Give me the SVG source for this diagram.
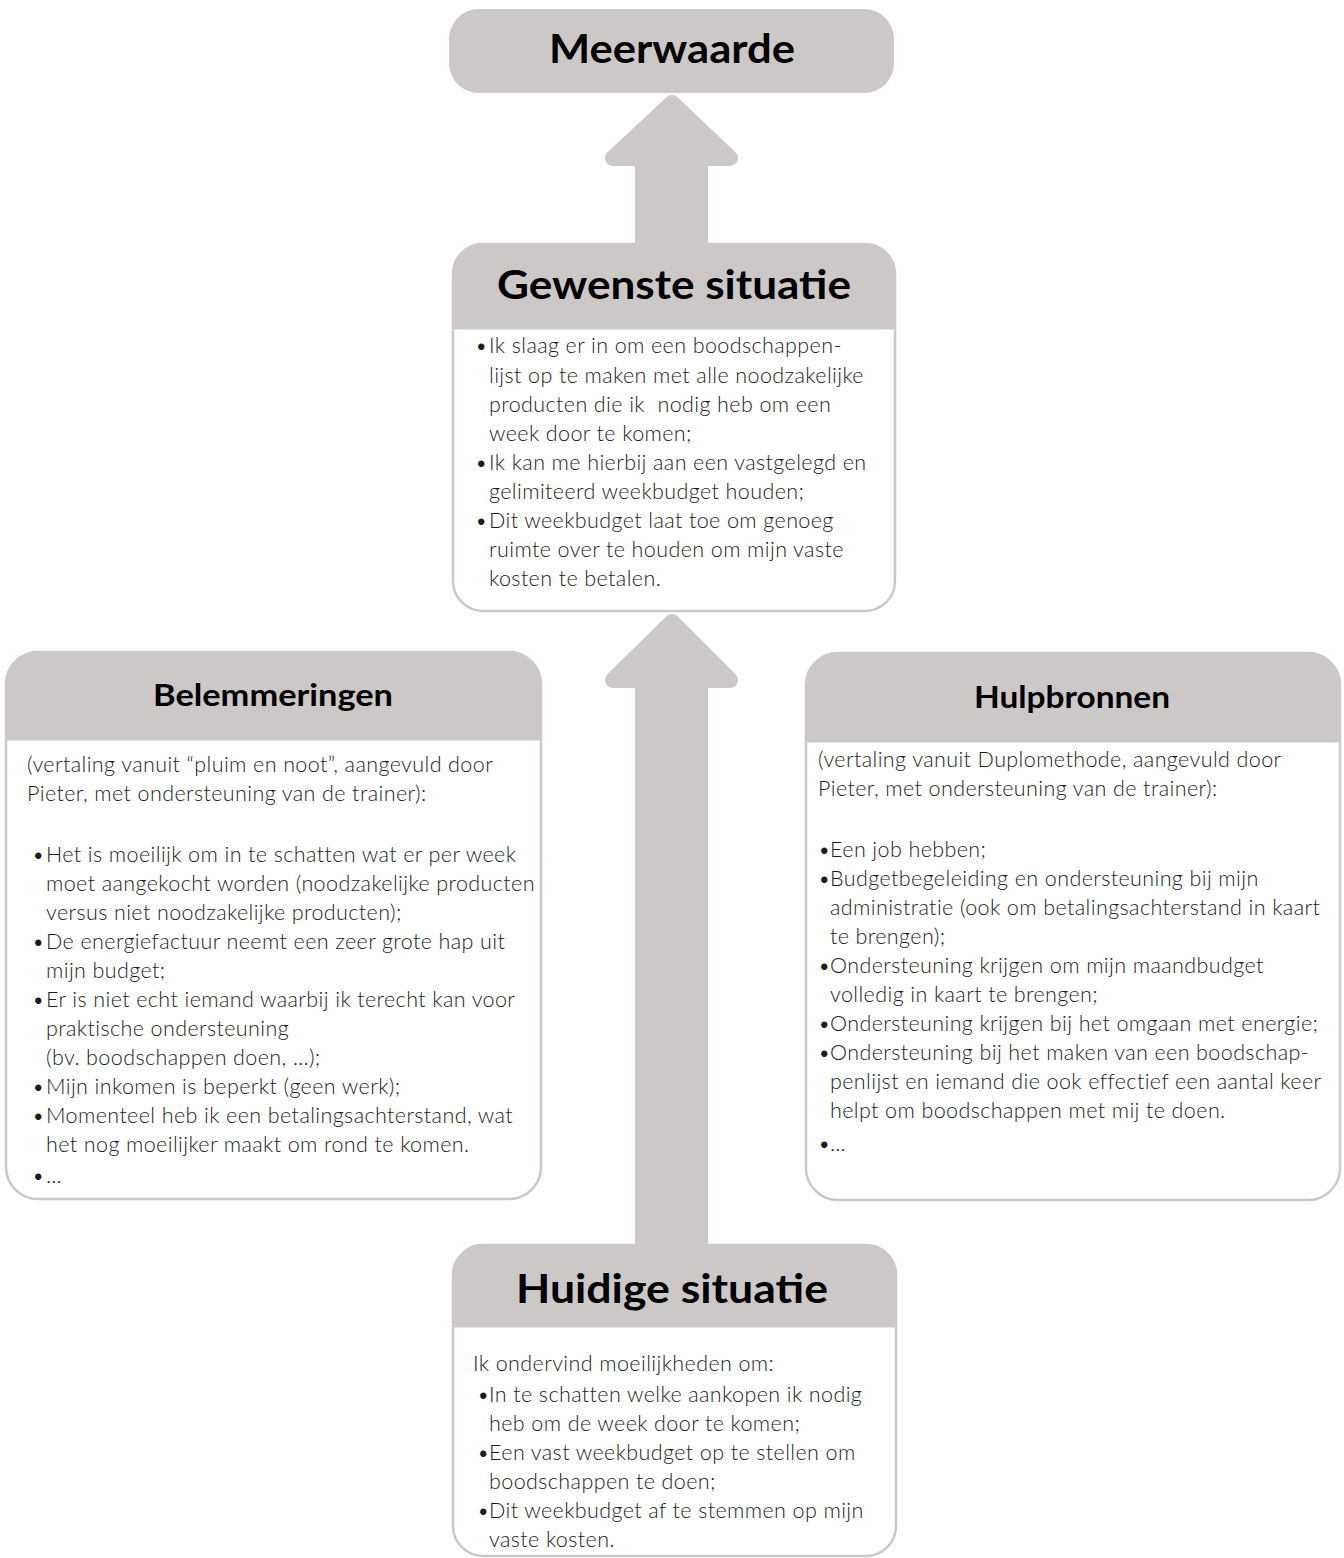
<svg xmlns="http://www.w3.org/2000/svg" width="1344" height="1558" viewBox="0 0 1344 1558">
  <style>
    .band { fill: #cdc8c8; }
    .card { fill: #ffffff; stroke: #cdc8c8; stroke-width: 2.5; }
    .head { fill: #cdc8c8; stroke: #cdc8c8; stroke-width: 1; }
    .arrow { fill: #cdc8c8; stroke: #cdc8c8; stroke-width: 16; stroke-linejoin: round; }
    .title { font-family: Lato, "Open Sans", sans-serif; font-weight: 700; fill: #000; text-anchor: middle; }
    .big { font-size: 41px; }
    .mid { font-size: 30px; }
    .body { font-family: Lato, "Open Sans", sans-serif; font-weight: 300; font-size: 21.5px; letter-spacing: 0.4px; fill: #1c1c1c; }
  </style>

  <!-- block arrows between the situations -->
  <g id="connectors">
    <polygon class="arrow" points="672,103 730,158 700,158 700,250 643,250 643,158 613,158"/>
    <polygon class="arrow" points="672,622 730,680 700,680 700,1252 643,1252 643,680 613,680"/>
  </g>

  <!-- top goal -->
  <g id="meerwaarde">
    <rect class="band" x="449" y="9" width="445" height="84" rx="30" ry="30"/>
    <text class="title big" x="672" y="63" textLength="246" lengthAdjust="spacingAndGlyphs">Meerwaarde</text>
  </g>

  <!-- desired situation -->
  <g id="gewenste-situatie">
    <path class="card" d="M453,274 A30,30 0 0 1 483,244 H865 A30,30 0 0 1 895,274 V581 A30,30 0 0 1 865,611 H483 A30,30 0 0 1 453,581 Z"/>
    <path class="head" d="M453,329 V274 A30,30 0 0 1 483,244 H865 A30,30 0 0 1 895,274 V329 Z"/>
    <text class="title big" x="674" y="299" textLength="354" lengthAdjust="spacingAndGlyphs">Gewenste situatie</text>
    <g class="body">
      <text x="475" y="353">•</text><text x="489" y="353">Ik slaag er in om een boodschappen-</text>
      <text x="489" y="383">lijst op te maken met alle noodzakelijke</text>
      <text x="489" y="412" xml:space="preserve">producten die ik  nodig heb om een</text>
      <text x="489" y="441">week door te komen;</text>
      <text x="475" y="470">•</text><text x="489" y="470">Ik kan me hierbij aan een vastgelegd en</text>
      <text x="489" y="499">gelimiteerd weekbudget houden;</text>
      <text x="475" y="528">•</text><text x="489" y="528">Dit weekbudget laat toe om genoeg</text>
      <text x="489" y="557">ruimte over te houden om mijn vaste</text>
      <text x="489" y="586">kosten te betalen.</text>
    </g>
  </g>

  <!-- obstacles -->
  <g id="belemmeringen">
    <path class="card" d="M6,684 A32,32 0 0 1 38,652 H509 A32,32 0 0 1 541,684 V1167 A32,32 0 0 1 509,1199 H38 A32,32 0 0 1 6,1167 Z"/>
    <path class="head" d="M6,740 V684 A32,32 0 0 1 38,652 H509 A32,32 0 0 1 541,684 V740 Z"/>
    <text class="title mid" x="273" y="706" textLength="240" lengthAdjust="spacingAndGlyphs">Belemmeringen</text>
    <g class="body">
      <text x="27" y="772">(vertaling vanuit “pluim en noot”, aangevuld door</text>
      <text x="27" y="801">Pieter, met ondersteuning van de trainer):</text>
      <text x="32" y="862">•</text><text x="46" y="862">Het is moeilijk om in te schatten wat er per week</text>
      <text x="46" y="891">moet aangekocht worden (noodzakelijke producten</text>
      <text x="46" y="920">versus niet noodzakelijke producten);</text>
      <text x="32" y="949">•</text><text x="46" y="949">De energiefactuur neemt een zeer grote hap uit</text>
      <text x="46" y="978">mijn budget;</text>
      <text x="32" y="1007">•</text><text x="46" y="1007">Er is niet echt iemand waarbij ik terecht kan voor</text>
      <text x="46" y="1036">praktische ondersteuning</text>
      <text x="46" y="1065">(bv. boodschappen doen, …);</text>
      <text x="32" y="1094">•</text><text x="46" y="1094">Mijn inkomen is beperkt (geen werk);</text>
      <text x="32" y="1123">•</text><text x="46" y="1123">Momenteel heb ik een betalingsachterstand, wat</text>
      <text x="46" y="1152">het nog moeilijker maakt om rond te komen.</text>
      <text x="32" y="1183">•</text><text x="46" y="1183">…</text>
    </g>
  </g>

  <!-- resources -->
  <g id="hulpbronnen">
    <path class="card" d="M806,685 A32,32 0 0 1 838,653 H1308 A32,32 0 0 1 1340,685 V1168 A32,32 0 0 1 1308,1200 H838 A32,32 0 0 1 806,1168 Z"/>
    <path class="head" d="M806,742 V685 A32,32 0 0 1 838,653 H1308 A32,32 0 0 1 1340,685 V742 Z"/>
    <text class="title mid" x="1072" y="708" textLength="196" lengthAdjust="spacingAndGlyphs">Hulpbronnen</text>
    <g class="body">
      <text x="818" y="767">(vertaling vanuit Duplomethode, aangevuld door</text>
      <text x="818" y="796">Pieter, met ondersteuning van de trainer):</text>
      <text x="818" y="857">•</text><text x="830" y="857">Een job hebben;</text>
      <text x="818" y="886">•</text><text x="830" y="886">Budgetbegeleiding en ondersteuning bij mijn</text>
      <text x="830" y="915">administratie (ook om betalingsachterstand in kaart</text>
      <text x="830" y="944">te brengen);</text>
      <text x="818" y="973">•</text><text x="830" y="973">Ondersteuning krijgen om mijn maandbudget</text>
      <text x="830" y="1002">volledig in kaart te brengen;</text>
      <text x="818" y="1031">•</text><text x="830" y="1031">Ondersteuning krijgen bij het omgaan met energie;</text>
      <text x="818" y="1060">•</text><text x="830" y="1060">Ondersteuning bij het maken van een boodschap-</text>
      <text x="830" y="1089">penlijst en iemand die ook effectief een aantal keer</text>
      <text x="830" y="1118">helpt om boodschappen met mij te doen.</text>
      <text x="818" y="1151">•</text><text x="830" y="1151">…</text>
    </g>
  </g>

  <!-- current situation -->
  <g id="huidige-situatie">
    <path class="card" d="M453,1275 A30,30 0 0 1 483,1245 H866 A30,30 0 0 1 896,1275 V1526 A30,30 0 0 1 866,1556 H483 A30,30 0 0 1 453,1526 Z"/>
    <path class="head" d="M453,1327 V1275 A30,30 0 0 1 483,1245 H866 A30,30 0 0 1 896,1275 V1327 Z"/>
    <text class="title big" x="672" y="1303" textLength="312" lengthAdjust="spacingAndGlyphs">Huidige situatie</text>
    <g class="body">
      <text x="473" y="1371">Ik ondervind moeilijkheden om:</text>
      <text x="477" y="1402">•</text><text x="489" y="1402">In te schatten welke aankopen ik nodig</text>
      <text x="489" y="1431">heb om de week door te komen;</text>
      <text x="477" y="1460">•</text><text x="489" y="1460">Een vast weekbudget op te stellen om</text>
      <text x="489" y="1489">boodschappen te doen;</text>
      <text x="477" y="1518">•</text><text x="489" y="1518">Dit weekbudget af te stemmen op mijn</text>
      <text x="489" y="1547">vaste kosten.</text>
    </g>
  </g>
</svg>
